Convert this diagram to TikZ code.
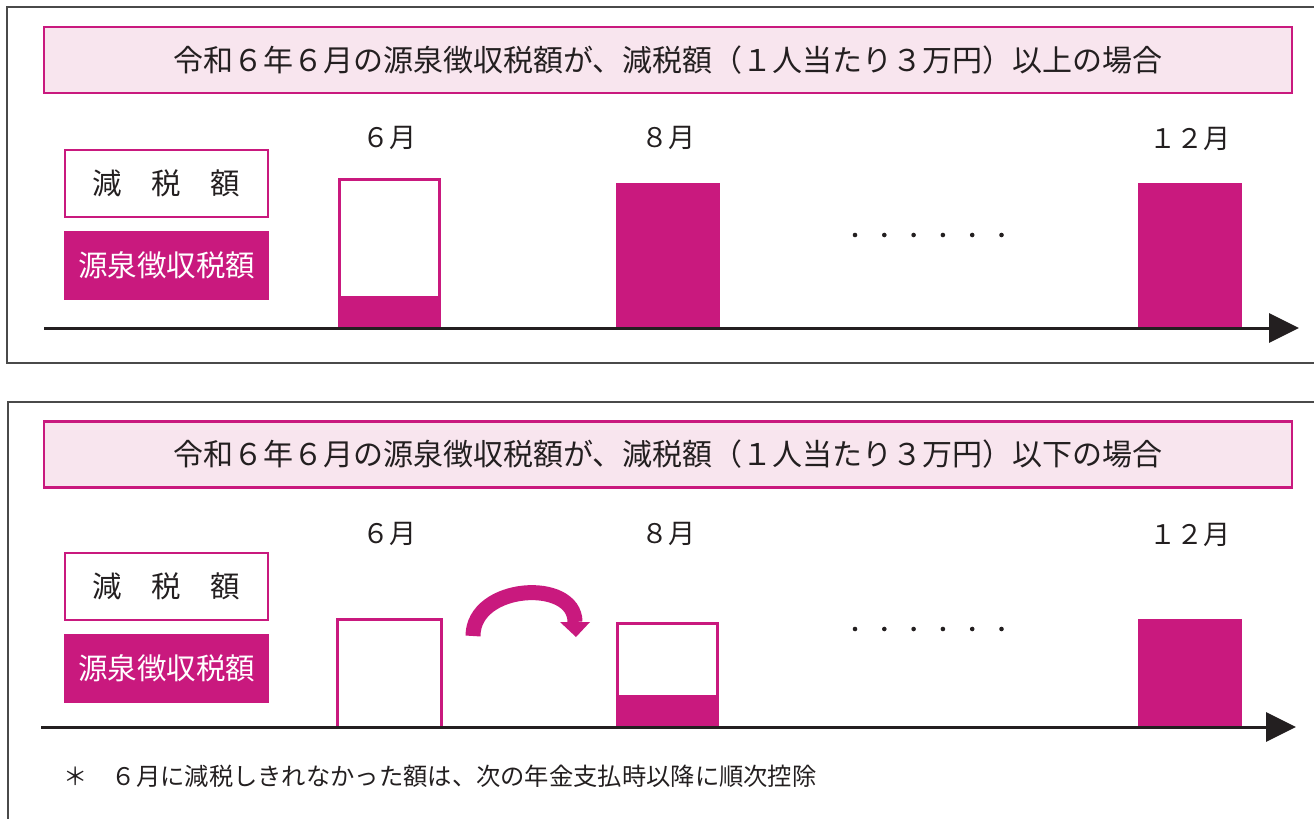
\documentclass[tikz,border=0pt]{standalone}
\usepackage{fontspec}
\setmainfont{Noto Sans CJK JP}
\usepackage{xcolor}
\usetikzlibrary{arrows.meta}
\definecolor{mag}{HTML}{C9197E}
\definecolor{pinkbg}{HTML}{F8E5EE}
\definecolor{ink}{HTML}{231F20}
\definecolor{frame}{HTML}{4A4A4A}

\begin{document}
\begin{tikzpicture}[x=1pt,y=-1pt,>={Triangle[length=30pt,width=29pt]},
  every node/.style={text=ink,inner sep=0pt},
  title/.style={draw=mag,fill=pinkbg,line width=2.5pt,minimum width=1248pt,minimum height=66pt,font=\fontsize{30}{35}\selectfont},
  legend/.style={draw=mag,line width=2.5pt,minimum width=203pt,minimum height=67pt,font=\fontsize{29.5}{35}\selectfont},
  month/.style={font=\fontsize{27}{32}\selectfont},
  bar/.style={draw=mag,line width=2.5pt},
  axis/.style={draw=ink,line width=3pt,->}]
  \useasboundingbox (0,0) rectangle (1314,819);

  \draw[frame,line width=1.3pt] (1314,7) -- (7,7) -- (7,363) -- (1314,363);
  \draw[frame,line width=1.3pt] (1314,402) -- (8,402) -- (8,819);

  \node[title] (t1) at (668,60) {令和６年６月の源泉徴収税額が、減税額（１人当たり３万円）以上の場合};
  \node[legend] (r1) at (166.5,183.5) {減　税　額};
  \node[legend,fill=mag,text=white] (g1) at (166.5,265.5) {源泉徴収税額};
  \node[month] (m6a) at (389,138) {６月};
  \node[month] (m8a) at (668,138) {８月};
  \node[month] (m12a) at (1190,139) {１２月};

  \draw[bar] (339.5,179.5) rectangle (439.5,328);
  \fill[mag] (338,296) rectangle (441,328);
  \fill[mag] (616,183) rectangle (720,328);
  \fill[mag] (1138,183) rectangle (1242,328);
  \foreach \i in {0,...,5}
    \fill[ink] (855+29.3*\i,235) circle (2.3);
  \coordinate (a1) at (44,328);
  \coordinate (b1) at (1299,328);
  \draw[axis] (a1) -- (b1);

  \node[title] (t2) at (668,454.5) {令和６年６月の源泉徴収税額が、減税額（１人当たり３万円）以下の場合};
  \node[legend] (r2) at (166.5,586.5) {減　税　額};
  \node[legend,fill=mag,text=white] (g2) at (166.5,668.5) {源泉徴収税額};
  \node[month] (m6b) at (389,534) {６月};
  \node[month] (m8b) at (668,534) {８月};
  \node[month] (m12b) at (1190,535) {１２月};

  \draw[bar] (337.5,619.5) rectangle (441.5,727);
  \draw[bar] (617.5,623.5) rectangle (717.5,727);
  \fill[mag] (616,695) rectangle (719,727);
  \fill[mag] (1138,619) rectangle (1242,727);
  \foreach \i in {0,...,5}
    \fill[ink] (855+29.3*\i,629) circle (2.3);
  \coordinate (c0) at (473,636);
  \coordinate (c1) at (575,622);
  \draw[mag,line width=15pt] (c0) .. controls (473,584) and (575,578) .. (c1);
  \fill[mag] (560,622) -- (590,622) -- (576,637) -- cycle;
  \coordinate (a2) at (41,727);
  \coordinate (b2) at (1296,727);
  \draw[axis] (a2) -- (b2);

  \node[anchor=west,font=\fontsize{24.3}{28}\selectfont] (fn) at (63,776) {＊　６月に減税しきれなかった額は、次の年金支払時以降に順次控除};
\end{tikzpicture}
\end{document}
